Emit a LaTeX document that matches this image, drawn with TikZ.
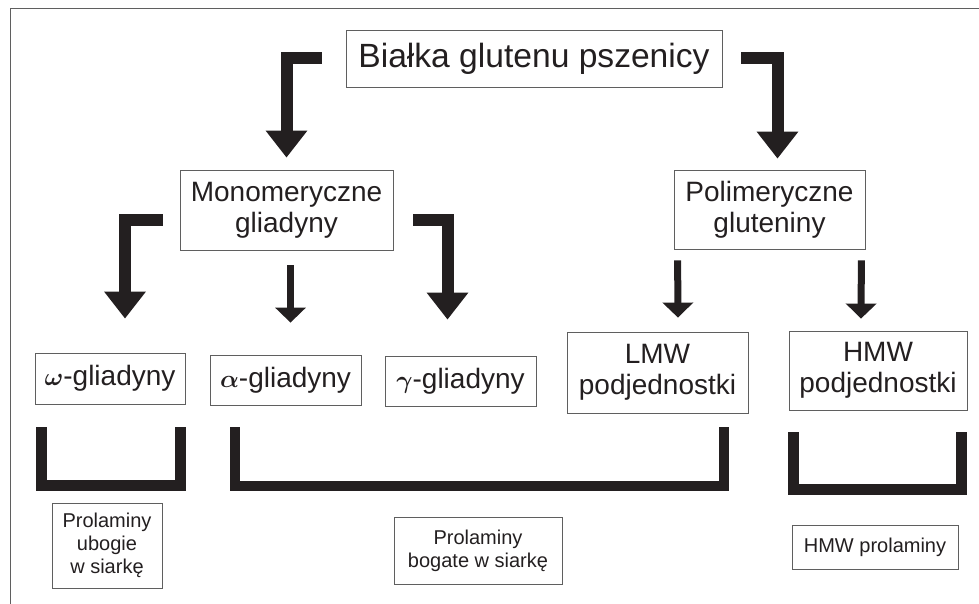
\documentclass[tikz,border=0pt]{standalone}
\usepackage{fontspec}
\setmainfont{Liberation Sans}
\usepackage{tikz}
\usetikzlibrary{
  arrows.meta,
  positioning
}
\definecolor{ink}{RGB}{35,31,32}
\definecolor{boxline}{RGB}{95,95,95}
\tikzset{
  x=1pt, y=-1pt,
  box/.style={draw=boxline, line width=0.8pt, align=center, inner sep=0pt, text=ink},
  bigtext/.style={font=\fontsize{33.6}{38}\selectfont},
  midtext/.style={font=\fontsize{28}{31}\selectfont},
  smalltext/.style={font=\fontsize{20}{23}\selectfont},
  fatarrow/.style={ink, line width=12pt, line join=miter, -{Triangle[width=40pt,length=27pt]}},
  slimarrow/.style={ink, line width=7pt, -{Triangle[width=30pt,length=15pt]}},
  bracket/.style={ink, line width=11pt, line join=miter}
}

\begin{document}
\begin{tikzpicture}
    \useasboundingbox (0,0) rectangle (979,604);
    \draw[boxline, line width=1pt] (10,604) -- (10,9) -- (979,9);

    \node[box, bigtext, minimum width=376pt, minimum height=57pt] (gluten) at (534,58.5) {Białka glutenu pszenicy};
    \node[box, midtext, minimum width=213pt, minimum height=80pt] (mono) at (286.5,210) {Monomeryczne\\gliadyny};
    \node[box, midtext, minimum width=191pt, minimum height=79pt] (poli) at (769.5,209.5) {Polimeryczne\\gluteniny};

    \node[box, midtext, minimum width=150pt, minimum height=51pt] (omega) at (110,378.5) {{\boldmath$\omega$}-gliadyny};
    \node[box, midtext, minimum width=151pt, minimum height=50pt] (alpha) at (285.5,380) {{\boldmath$\alpha$}-gliadyny};
    \node[box, midtext, minimum width=151pt, minimum height=50pt] (gamma) at (460.5,381) {{\boldmath$\gamma$}-gliadyny};
    \node[box, midtext, minimum width=181pt, minimum height=81pt] (lmw) at (657.5,372.5) {LMW\\podjednostki};
    \node[box, midtext, minimum width=178pt, minimum height=79pt] (hmw) at (878,370.5) {HMW\\podjednostki};

    \node[box, smalltext, minimum width=110pt, minimum height=85pt] (ubogie) at (107,545.5) {Prolaminy\\ubogie\\w siarkę};
    \node[box, smalltext, minimum width=168pt, minimum height=67pt] (bogate) at (478,550.5) {Prolaminy\\bogate w siarkę};
    \node[box, smalltext, minimum width=166pt, minimum height=44pt] (hmwprol) at (875,547) {HMW prolaminy};

    % arrows
    \draw[fatarrow] ([xshift=-24pt]gluten.west) -| ([yshift=12pt]mono.north);
    \draw[fatarrow] ([xshift=19pt]gluten.east) -| ([xshift=8pt,yshift=11pt]poli.north);
    \draw[fatarrow] ([xshift=-17pt,yshift=-10pt]mono.west) -| ([xshift=15pt,yshift=34pt]omega.north);
    \draw[slimarrow] ([xshift=4pt,yshift=-15pt]mono.south) -- ([xshift=5pt,yshift=32pt]alpha.north);
    \draw[fatarrow] ([xshift=20pt,yshift=-10pt]mono.east) -| ([xshift=-13pt,yshift=36pt]gamma.north);
    \draw[slimarrow] ([xshift=4pt,yshift=-11pt]poli.south west) -- ([xshift=20.5pt,yshift=14pt]lmw.north);
    \draw[slimarrow] ([xshift=-4pt,yshift=-11pt]poli.south east) -- ([xshift=-17pt,yshift=12pt]hmw.north);

    % brackets
    \draw[bracket] (41.5,427) |- (180.5,485.5) -- (180.5,427);
    \draw[bracket, line width=10pt] (235,427) |- (724,486) -- (724,427);
    \draw[bracket] (793.5,432) |- (961.5,489.5) -- (961.5,432);
\end{tikzpicture}
\end{document}
